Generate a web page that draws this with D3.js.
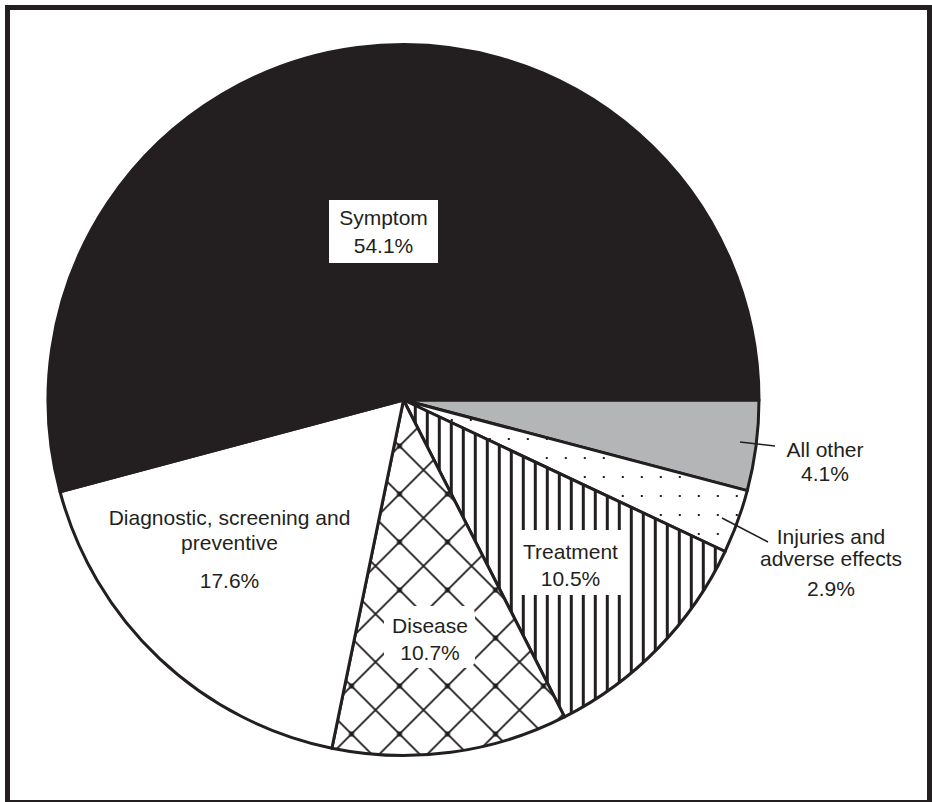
<!DOCTYPE html>
<html>
<head>
<meta charset="utf-8">
<script src="https://cdn.jsdelivr.net/npm/d3@7"></script>
<style>
  html, body { margin: 0; padding: 0; background: #fff; }
  svg { display: block; }
  text { font-family: "Liberation Sans", Arial, Helvetica, sans-serif; font-size: 21px; fill: #231f20; }
</style>
</head>
<body>
<svg id="chart" width="932" height="802"></svg>
<script>
// ---- Data ----
const categories = ["All other", "Injuries and adverse effects", "Treatment", "Disease", "Diagnostic, screening and preventive", "Symptom"];
const values = [4.1, 2.9, 10.5, 10.7, 17.6, 54.1];
const labelLines = [
  ["All other"],
  ["Injuries and", "adverse effects"],
  ["Treatment"],
  ["Disease"],
  ["Diagnostic, screening and", "preventive"],
  ["Symptom"]
];
const fills = ["#b4b5b7", "url(#dots)", "url(#stripes)", "url(#cross)", "#ffffff", "#231f20"];

// ---- Layout (not data) ----
const W = 932, H = 802;
const cx = 403.5, cy = 400, R = 355.5;
const INK = "#231f20";

const svg = d3.select("#chart");

// frame
svg.append("rect").attr("x", 7.5).attr("y", 7.5).attr("width", 922).attr("height", 795)
  .attr("fill", "#fff").attr("stroke", INK).attr("stroke-width", 5);

// patterns
const defs = svg.append("defs");
const cross = defs.append("pattern").attr("id", "cross").attr("patternUnits", "userSpaceOnUse")
  .attr("width", 48).attr("height", 48).attr("x", 399.5 - 24 - cx).attr("y", 590 - 24 - cy);
cross.append("rect").attr("width", 48).attr("height", 48).attr("fill", "#fff");
cross.append("path").attr("d", "M-1,-1L49,49M49,-1L-1,49").attr("stroke", INK)
  .attr("stroke-width", 1.9).attr("fill", "none");
cross.append("rect").attr("x", 21.5).attr("y", 21.5).attr("width", 5).attr("height", 5).attr("fill", INK);

const stripes = defs.append("pattern").attr("id", "stripes").attr("patternUnits", "userSpaceOnUse")
  .attr("width", 12).attr("height", 12).attr("x", 521.8 - cx).attr("y", 0);
stripes.append("rect").attr("width", 12).attr("height", 12).attr("fill", "#fff");
stripes.append("rect").attr("width", 3).attr("height", 12).attr("fill", INK);

const dots = defs.append("pattern").attr("id", "dots").attr("patternUnits", "userSpaceOnUse")
  .attr("width", 19).attr("height", 19).attr("x", 621.8 - cx).attr("y", 495 - cy);
dots.append("rect").attr("width", 19).attr("height", 19).attr("fill", "#fff");
dots.append("rect").attr("width", 2).attr("height", 2).attr("fill", INK);

// pie
const pie = d3.pie().sort(null).value(d => d)
  .startAngle(Math.PI / 2).endAngle(Math.PI / 2 + 2 * Math.PI);
const arc = d3.arc().innerRadius(0).outerRadius(R);
const arcs = pie(values);

const g = svg.append("g").attr("transform", `translate(${cx},${cy})`);
g.selectAll("path.slice").data(arcs).enter().append("path")
  .attr("class", "slice")
  .attr("d", arc)
  .attr("fill", (d, i) => fills[i])
  .attr("stroke", INK)
  .attr("stroke-width", 3)
  .attr("stroke-linejoin", "round");

// ---- Labels ----
const labelLayout = [
  { x: 825, ys: [457, 481], pctY: 481, leader: [[740, 442], [775, 446]] },
  { x: 831, ys: [544, 566], pctY: 596, leader: [[722, 518], [768, 542]] },
  { x: 570.5, ys: [559], pctY: 586, box: [515, 530, 112, 65, 0] },
  { x: 430, ys: [633], pctY: 660, box: [384, 606, 91, 62, 8] },
  { x: 229.5, ys: [525, 550], pctY: 588 },
  { x: 383.5, ys: [225], pctY: 253, box: [329, 200, 109, 63, 0] }
];

const lg = svg.append("g");
labelLayout.forEach((L, i) => {
  if (L.box) {
    lg.append("rect").attr("x", L.box[0]).attr("y", L.box[1]).attr("width", L.box[2]).attr("height", L.box[3])
      .attr("rx", L.box[4]).attr("fill", "#fff");
  }
  if (L.leader) {
    lg.append("line").attr("x1", L.leader[0][0]).attr("y1", L.leader[0][1])
      .attr("x2", L.leader[1][0]).attr("y2", L.leader[1][1])
      .attr("stroke", INK).attr("stroke-width", 1.6);
  }
  labelLines[i].forEach((t, j) => {
    lg.append("text").attr("x", L.x).attr("y", L.ys[j]).attr("text-anchor", "middle").text(t);
  });
  lg.append("text").attr("x", L.x).attr("y", L.pctY).attr("text-anchor", "middle")
    .text(values[i].toFixed(1) + "%");
});
</script>
</body>
</html>
